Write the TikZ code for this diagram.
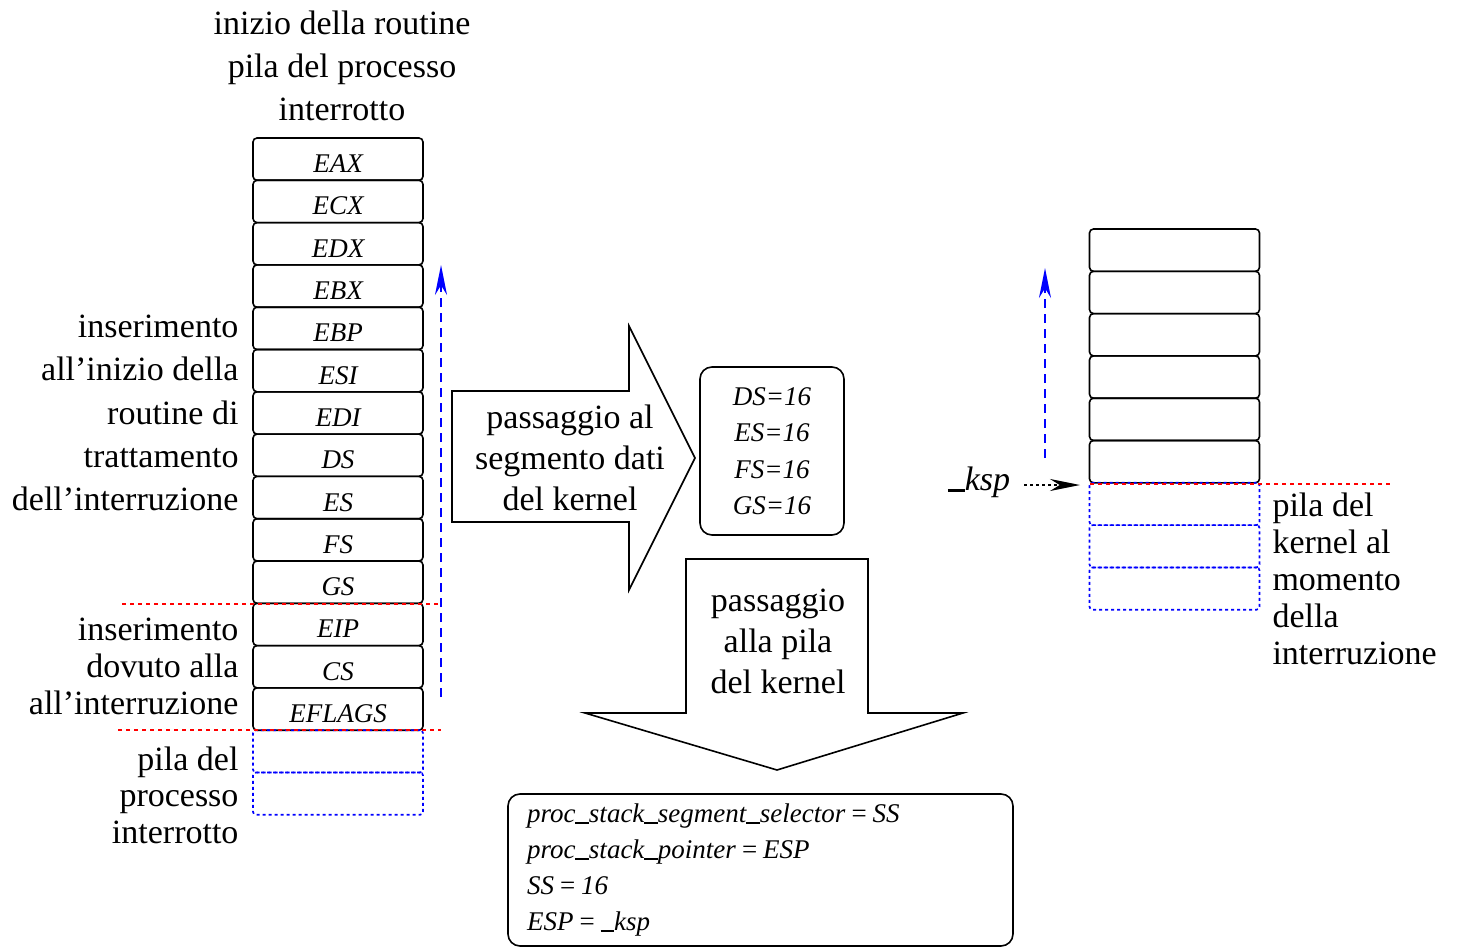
\documentclass[tikz,border=0pt]{standalone}
\usepackage{fontspec}
\setmainfont{Liberation Serif}
\usetikzlibrary{arrows.meta}
\tikzset{
  big/.style={font=\fontsize{34}{43}\selectfont},
  lab/.style={font=\fontsize{27}{36.5}\selectfont\itshape},
  cell/.style={draw, line width=1.6pt, rounded corners=4pt, minimum width=170pt, minimum height=42.3pt, inner sep=0pt, text height=27pt, text depth=0pt, font=\fontsize{27}{30}\selectfont\itshape},
  ghost/.style={draw=blue, line width=1.7pt, dash pattern=on 3pt off 3pt, rounded corners=3pt, minimum width=170pt, minimum height=42.3pt, inner sep=0pt},
  redline/.style={red, line width=1.4pt, dash pattern=on 4pt off 4pt},
  bluearrow/.style={blue, line width=1.6pt, dash pattern=on 9pt off 6pt, -{Stealth[length=30pt,width=12pt]}},
  blackarrow/.style={black, line width=1.4pt, dash pattern=on 3pt off 3pt, -{Stealth[length=30pt,width=12pt]}},
  bigarrow/.style={draw, line width=1.6pt, fill=white},
  roundbox/.style={draw, line width=1.6pt, rounded corners=12pt, inner sep=0pt},
  ubar/.style={}
}
\newcommand{\myus}{\rule[-1.5pt]{0.5em}{2.2pt}}
\begin{document}
\begin{tikzpicture}[x=1pt,y=-1pt]
\useasboundingbox (0,0) rectangle (1457,947);
% title
\node[big, align=center] (title) at (342,66) {inizio della routine\\pila del processo\\interrotto};
% left stack
\foreach \lab [count=\i] in {EAX,ECX,EDX,EBX,EBP,ESI,EDI,DS,ES,FS,GS,EIP,CS,EFLAGS}{
  \node[cell] (l\i) at (338,{138+42.3*(\i-0.5)}) {\lab};
}
\node[ghost] (l15) at (338,{138+42.3*14.5}) {};
\node[ghost] (l16) at (338,{138+42.3*15.5}) {};
% red separators
\coordinate (r1a) at (122,604); \coordinate (r1b) at (441,604);
\coordinate (r2a) at (118,730); \coordinate (r2b) at (441,730);
\draw[redline] (r1a) -- (r1b);
\draw[redline] (r2a) -- (r2b);
% blue arrow left
\coordinate (ba1) at (441,697); \coordinate (ba2) at (441,265);
\draw[bluearrow] (ba1) -- (ba2);
% left labels
\node[font=\fontsize{34}{43.3}\selectfont, align=right, anchor=east] (t1) at (242,413) {inserimento\\all'inizio della\\routine di\\trattamento\\dell'interruzione};
\node[font=\fontsize{34}{37}\selectfont, align=right, anchor=east] (t2) at (242,666) {inserimento\\dovuto alla\\all'interruzione};
\node[font=\fontsize{34}{36.5}\selectfont, align=right, anchor=east] (t3) at (242,795) {pila del\\processo\\interrotto};
% right big arrow
\draw[bigarrow] (452,391) -- (629,391) -- (629,326) -- (695,458) -- (629,590) -- (629,522) -- (452,522) -- cycle;
\node[big, align=center, font=\fontsize{34}{41}\selectfont] (pa1) at (570,458) {passaggio al\\segmento dati\\del kernel};
% DS box
\node[roundbox, minimum width=144pt, minimum height=168pt, lab, align=center] (ds) at (772,451) {DS=16\\ES=16\\FS=16\\GS=16};
% down arrow
\draw[bigarrow] (686,559) -- (868,559) -- (868,713) -- (963,713) -- (777,770) -- (585,713) -- (686,713) -- cycle;
\node[align=center, font=\fontsize{34}{41}\selectfont] (pa2) at (778,641) {passaggio\\alla pila\\del kernel};
% bottom box
\node[roundbox, minimum width=505pt, minimum height=152pt, text width=467pt, align=left, lab, font=\fontsize{27}{36}\selectfont\itshape] (bx) at (760.5,870) {proc\myus stack\myus segment\myus selector\,=\,SS\\proc\myus stack\myus pointer\,=\,ESP\\SS\,=\,16\\ESP\,=\,\myus ksp};
% right stack
\foreach \i in {1,...,6}{
  \node[cell] (k\i) at (1174.5,{229+42.3*(\i-0.5)}) {};
}
\foreach \i in {7,8,9}{
  \node[ghost] (k\i) at (1174.5,{229+42.3*(\i-0.5)}) {};
}
\coordinate (r3a) at (1090,484); \coordinate (r3b) at (1390,484);
\draw[redline] (r3a) -- (r3b);
\coordinate (bb1) at (1045,458); \coordinate (bb2) at (1045,268);
\draw[bluearrow] (bb1) -- (bb2);
\node[font=\fontsize{34}{40}\selectfont\itshape, inner sep=0pt] (ksp) at (979,482) {\myus ksp};
\coordinate (kt) at (1080,485);
\draw[blackarrow] ([xshift=14pt]ksp.east |- kt) -- (kt);
\node[font=\fontsize{34}{37}\selectfont, align=left, anchor=west] (t4) at (1269,579) {pila del\\kernel al\\momento\\della\\interruzione};
\end{tikzpicture}
\end{document}
